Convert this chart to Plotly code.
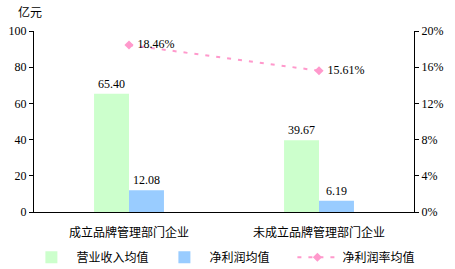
import plotly.graph_objects as go

categories = ["成立品牌管理部门企业", "未成立品牌管理部门企业"]
revenue = [65.40, 39.67]
profit = [12.08, 6.19]
margin = [18.46, 15.61]
left_ticks = [0, 20, 40, 60, 80, 100]
right_ticks = [0, 4, 8, 12, 16, 20]

num_font = dict(family="Liberation Serif, Times New Roman, serif", size=12, color="black")
cjk_font = dict(family="Noto Sans CJK SC, sans-serif", size=12, color="black")

fig = go.Figure()
fig.add_trace(go.Bar(
    x=categories, y=revenue, name="营业收入均值",
    marker=dict(color="#CCFFCC", line=dict(width=0)),
    text=[f"{v:.2f}" for v in revenue], textposition="outside",
    textfont=num_font, cliponaxis=False,
))
fig.add_trace(go.Bar(
    x=categories, y=profit, name="净利润均值",
    marker=dict(color="#99CCFF", line=dict(width=0)),
    text=[f"{v:.2f}" for v in profit], textposition="outside",
    textfont=num_font, cliponaxis=False,
))
fig.add_trace(go.Scatter(
    x=categories, y=margin, name="净利润率均值", yaxis="y2",
    mode="lines+markers+text",
    line=dict(color="#FF99CC", width=2, dash="4px,7px"),
    marker=dict(symbol="diamond", size=7, color="#FF99CC"),
    text=[f" {v:.2f}%" for v in margin], textposition="middle right",
    textfont=num_font, cliponaxis=False,
))

fig.update_layout(
    width=455, height=269,
    margin=dict(l=34, r=41, t=31, b=57, autoexpand=False),
    paper_bgcolor="white", plot_bgcolor="white",
    barmode="group", bargap=0.632, bargroupgap=0,
    showlegend=True,
    legend=dict(orientation="h", x=-0.02, xanchor="left", y=-0.17, yanchor="top",
                font=cjk_font, itemwidth=40, tracegroupgap=0,
                entrywidth=78, entrywidthmode="pixels",
                traceorder="normal"),
    font=cjk_font,
    xaxis=dict(
        type="category", range=[-0.5, 1.5],
        showline=True, linecolor="black", linewidth=1,
        ticks="", showgrid=False, tickfont=cjk_font, ticklabelstandoff=10,
    ),
    yaxis=dict(
        range=[0, 100], tickvals=left_ticks, ticktext=[str(v) for v in left_ticks],
        showline=True, linecolor="black", linewidth=1,
        ticks="outside", ticklen=4, tickcolor="black",
        showgrid=False, zeroline=False, tickfont=num_font,
    ),
    yaxis2=dict(
        range=[0, 20], overlaying="y", side="right",
        tickvals=right_ticks, ticktext=[f"{v}%" for v in right_ticks],
        showline=True, linecolor="black", linewidth=1,
        ticks="outside", ticklen=4, tickcolor="black",
        showgrid=False, zeroline=False, tickfont=num_font,
    ),
    annotations=[dict(
        text="亿元", xref="paper", yref="paper", x=-0.01, y=1.05,
        xanchor="center", yanchor="bottom", showarrow=False, font=cjk_font,
    )],
)

fig.write_html("out.html")
